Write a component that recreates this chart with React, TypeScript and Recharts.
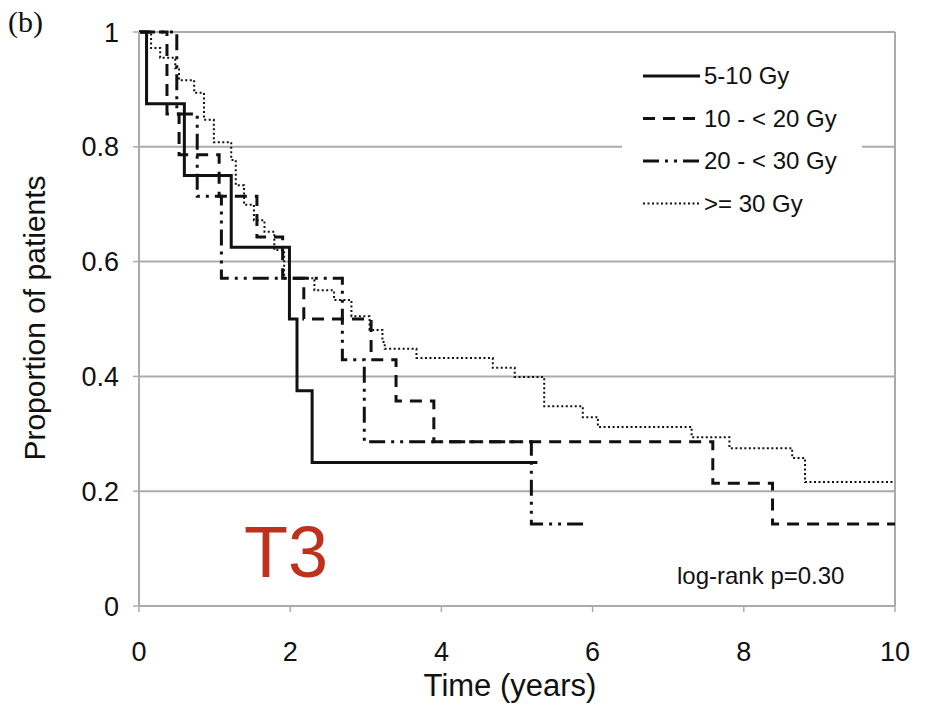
import React from 'react';
import { LineChart, Line, XAxis, YAxis, CartesianGrid, ReferenceLine } from 'recharts';

// Kaplan-Meier steps, [time in years, proportion]
const gy5to10 = [
  [0, 1], [0.1, 0.875], [0.6, 0.75], [1.22, 0.625], [1.99, 0.5],
  [2.09, 0.375], [2.29, 0.25], [5.27, 0.25],
];
const gy10to20 = [
  [0, 1], [0.37, 0.857], [0.53, 0.786], [1.06, 0.714], [1.56, 0.643],
  [1.9, 0.571], [2.18, 0.5], [3.07, 0.429], [3.4, 0.357], [3.9, 0.286],
  [7.59, 0.214], [8.38, 0.143], [10, 0.143],
];
const gy20to30 = [
  [0, 1], [0.5, 0.857], [0.77, 0.714], [1.09, 0.571], [2.69, 0.429],
  [2.98, 0.286], [5.19, 0.143], [5.89, 0.143],
];
const gy30plus = [
  [0, 1], [0.16, 0.972], [0.28, 0.955], [0.48, 0.937], [0.53, 0.916],
  [0.73, 0.894], [0.86, 0.847], [0.99, 0.808], [1.22, 0.777], [1.28, 0.733],
  [1.39, 0.699], [1.52, 0.672], [1.66, 0.652], [1.79, 0.62], [1.92, 0.571],
  [2.32, 0.55], [2.58, 0.533], [2.81, 0.505], [3.05, 0.481], [3.22, 0.46],
  [3.25, 0.448], [3.67, 0.432], [4.68, 0.415], [4.97, 0.399], [5.36, 0.348],
  [5.87, 0.329], [6.07, 0.312], [7.31, 0.294], [7.81, 0.275], [8.64, 0.258],
  [8.81, 0.216], [10, 0.216],
];

const seriesNames = ['5-10 Gy', '10 - < 20 Gy', '20 - < 30 Gy', '>= 30 Gy'];
const xTicks = [0, 2, 4, 6, 8, 10];
const yTicks = [0, 0.2, 0.4, 0.6, 0.8, 1];

const toRows = (pts: number[][]) => pts.map(([t, p]) => ({ t, p }));

const styles = [
  { dash: undefined, width: 3 },
  { dash: '12 8', width: 3 },
  { dash: '16 6 3 6 3 6', width: 3 },
  { dash: '2 2.5', width: 2 },
];
const allSeries = [gy5to10, gy10to20, gy20to30, gy30plus];

const FONT = '"Liberation Sans", Arial, Helvetica, sans-serif';
const GRID = '#ababab';

export default function App() {
  return (
    <div style={{ position: 'absolute', left: 0, top: 0, width: 927, height: 711, background: '#fff' }}>
      <LineChart
        width={927}
        height={711}
        margin={{ top: 32, right: 32, bottom: 45, left: 59 }}
      >
        <CartesianGrid horizontal vertical={false} stroke={GRID} strokeWidth={2} />
        <XAxis
          dataKey="t"
          type="number"
          domain={[0, 10]}
          ticks={xTicks}
          allowDuplicatedCategory={false}
          height={60}
          axisLine={{ stroke: GRID, strokeWidth: 2 }}
          tickLine={{ stroke: GRID, strokeWidth: 1.5 }}
          tickSize={6}
          tickMargin={30}
          tick={{ fontSize: 27, fill: '#111', fontFamily: FONT }}
          label={{ value: 'Time (years)', position: 'bottom', offset: 8, fontSize: 31, fill: '#111', fontFamily: FONT, dx: -7 }}
        />
        <YAxis
          type="number"
          domain={[0, 1]}
          ticks={yTicks}
          width={80}
          axisLine={{ stroke: GRID, strokeWidth: 2 }}
          tickLine={{ stroke: GRID, strokeWidth: 1.5 }}
          tickSize={6}
          tickMargin={14}
          tickFormatter={(v: number) => String(v)}
          tick={{ fontSize: 27, fill: '#111', fontFamily: FONT }}
        />
        <ReferenceLine x={10} stroke={GRID} strokeWidth={2} />
        <ReferenceLine y={1} stroke={GRID} strokeWidth={2} />
        {allSeries.map((pts, i) => (
          <Line
            key={seriesNames[i]}
            name={seriesNames[i]}
            data={toRows(pts)}
            dataKey="p"
            type="stepAfter"
            stroke="#111"
            strokeWidth={styles[i].width}
            strokeDasharray={styles[i].dash}
            dot={false}
            activeDot={false}
            isAnimationActive={false}
          />
        ))}
      </LineChart>

      {/* annotations and legend drawn on top */}
      <svg width={927} height={711} style={{ position: 'absolute', left: 0, top: 0, pointerEvents: 'none' }}>
        <text x={8} y={32} fontSize={30} fontFamily='"Liberation Serif", "Times New Roman", serif' fill="#111">(b)</text>
        <text
          x={0}
          y={0}
          transform="translate(45 318) rotate(-90)"
          textAnchor="middle"
          fontSize={30}
          fontFamily={FONT}
          fill="#111"
        >
          Proportion of patients
        </text>
        <rect x={622} y={55} width={240} height={167} fill="#fff" />
        {seriesNames.map((name, i) => {
          const y = 76 + i * 42.5;
          return (
            <g key={name}>
              <line x1={643} x2={700} y1={y} y2={y} stroke="#111" strokeWidth={styles[i].width} strokeDasharray={styles[i].dash} />
              <text x={704} y={y + 8} fontSize={24} fontFamily={FONT} fill="#111">{name}</text>
            </g>
          );
        })}
        <text x={677} y={584} fontSize={24} fontFamily={FONT} fill="#111">log-rank p=0.30</text>
        <text x={244} y={577} fontSize={72} fontFamily={FONT} fill="#c0311d">T3</text>
      </svg>
    </div>
  );
}
